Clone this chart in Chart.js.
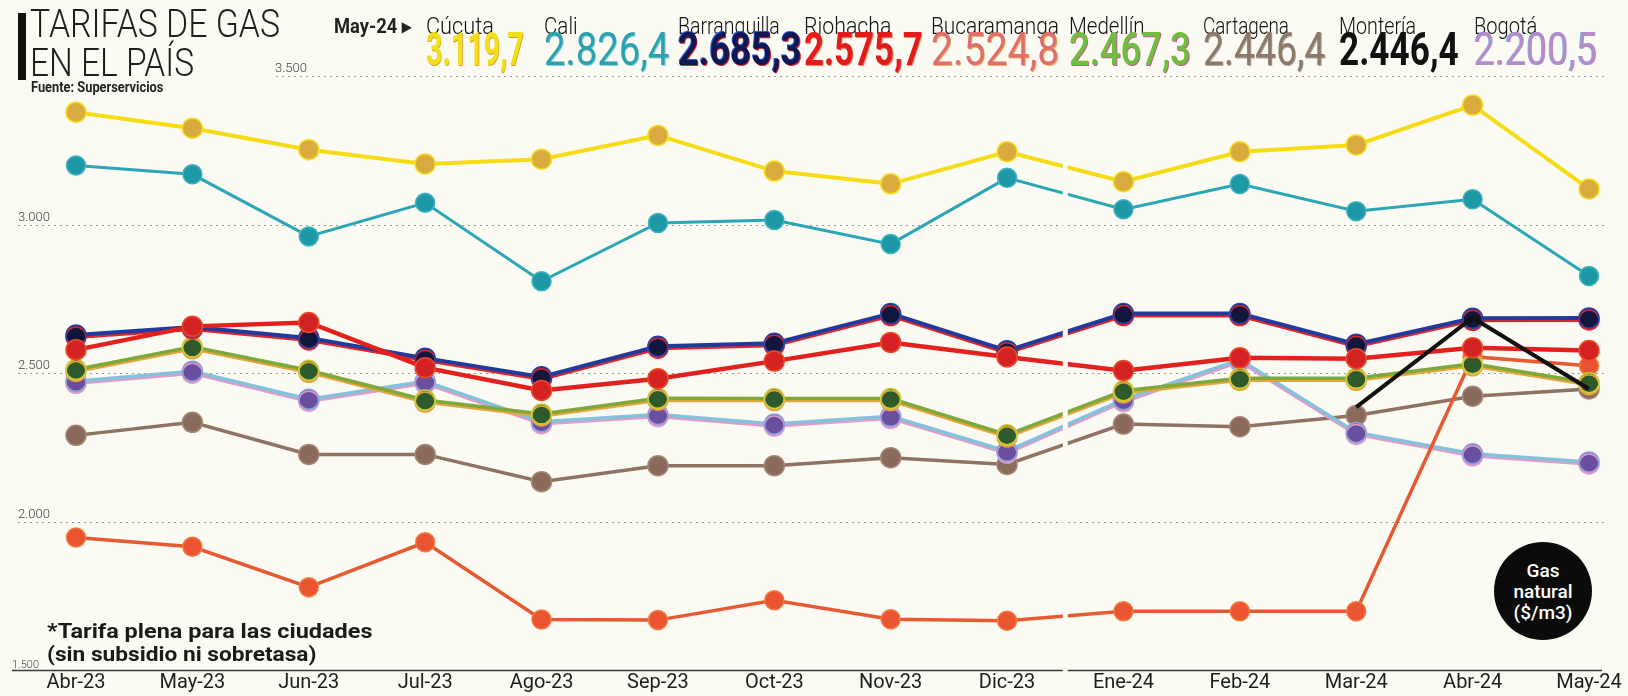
<!DOCTYPE html>
<html lang="es">
<head>
<meta charset="utf-8">
<title>Tarifas de gas en el país</title>
<script src="https://cdn.jsdelivr.net/npm/chart.js@4.4.1/dist/chart.umd.min.js"></script>
<style>
  body { margin: 0; background: #fbfaf3; }
  #wrap { position: relative; width: 1628px; height: 696px; background: #fbfaf3; overflow: hidden; font-family: Roboto, "Open Sans", sans-serif; }
  #chart { position: absolute; left: 0; top: 0; }
  .fit { position: absolute; white-space: nowrap; transform-origin: left top; }
  .bar { position: absolute; left: 18px; top: 13px; width: 8px; height: 67px; background: #111; }
  .title { font-size: 38px; font-weight: 300; line-height: 38px; color: #1e1e1e; }
  .src { font-size: 14px; font-weight: 700; color: #222; }
  .may { font-size: 20px; font-weight: 700; color: #222; }
  .city { top: 13px; font-size: 23px; font-weight: 300; color: #111; }
  .val { top: 25px; font-size: 46px; line-height: 48px; }
  .note { font-size: 20px; font-weight: 700; line-height: 23px; color: #1a1a1a; }
  .badge { position: absolute; left: 1494px; top: 542px; width: 98px; height: 98px; border-radius: 50%; background: #0b0b0b; color: #fff; display: flex; align-items: center; justify-content: center; text-align: center; font-size: 19px; font-weight: 500; line-height: 21px; }
</style>
</head>
<body>
<div id="wrap">
  <canvas id="chart" width="1628" height="696"></canvas>
  <div class="bar"></div>
  <div class="fit title" style="left:30px;top:5px" data-w="250">TARIFAS DE GAS</div>
  <div class="fit title" style="left:30px;top:44px" data-w="164">EN EL PAÍS</div>
  <div class="fit src" style="left:31px;top:79px" data-w="132">Fuente: Superservicios</div>
  <div class="fit may" style="left:334px;top:14px" data-w="77">May-24 &#9656;</div>
  <div id="head"></div>
  <div class="fit note" style="left:47px;top:620px" data-w="325">*Tarifa plena para las ciudades</div>
  <div class="fit note" style="left:47px;top:643px" data-w="270">(sin subsidio ni sobretasa)</div>
  <div class="badge">Gas<br>natural<br>($/m3)</div>
</div>
<script>
// meses del eje x
const months = ['Abr-23', 'May-23', 'Jun-23', 'Jul-23', 'Ago-23', 'Sep-23', 'Oct-23', 'Nov-23', 'Dic-23', 'Ene-24', 'Feb-24', 'Mar-24', 'Abr-24', 'May-24'];

// tarifas por ciudad ($/m3)
const cucuta       = [3378, 3324, 3252, 3204, 3220, 3300, 3180, 3137, 3245, 3144, 3245, 3268, 3402, 3119.7];
const cali         = [3199, 3169, 2960, 3073, 2809, 3005, 3015, 2934, 3157, 3051, 3136, 3045, 3085, 2826.4];
const barranquilla = [2628, 2655, 2618, 2550, 2487, 2590, 2600, 2700, 2575, 2700, 2700, 2597, 2684, 2685.3];
const riohacha     = [2578, 2657, 2670, 2518, 2441, 2481, 2540, 2603, 2554, 2508, 2551, 2548, 2585, 2575.7];
const bucaramanga  = [1946, 1915, 1779, 1930, 1670, 1668, 1735, 1671, 1666, 1698, 1698, 1698, 2555, 2524.8];
const medellin     = [2512, 2588, 2509, 2409, 2362, 2415, 2414, 2414, 2292, 2440, 2482, 2482, 2531, 2467.3];
const cartagena    = [2290, 2334, 2226, 2226, 2134, 2188, 2188, 2215, 2192, 2328, 2319, 2357, 2422, 2446.4];
const monteria     = [null, null, null, null, null, null, null, null, null, null, null, 2385, 2686, 2446.4];
const bogota       = [2472, 2506, 2412, 2472, 2336, 2360, 2328, 2354, 2237, 2410, 2545, 2300, 2228, 2200.5];

const yTicks = [1500, 2000, 2500, 3000, 3500];

// series: nombre, datos, estilo
const series = [
  { name: 'Montería',     data: monteria,     line: '#111111', width: 4,   point: '#111111', ring: '#111111', radius: 0 },
  { name: 'Riohacha',     data: riohacha,     line: '#e2211f', width: 4.5, point: '#d42222', ring: '#ee4a2a', radius: 10 },
  { name: 'Barranquilla', data: barranquilla, line: '#223a9c', width: 4,   point: '#10163c', ring: '#2443aa', radius: 10, shadow: '#e0262b' },
  { name: 'Cúcuta',       data: cucuta,       line: '#f5dc15', width: 4,   point: '#d9ab3e', ring: '#f6dc1c', radius: 10 },
  { name: 'Cali',         data: cali,         line: '#2aa6b4', width: 3,   point: '#1e98a6', ring: '#3cb4c0', radius: 9.5 },
  { name: 'Medellín',     data: medellin,     line: '#7fa83a', width: 3.5, point: '#2e5a2c', ring: '#c9cf3e', radius: 10, shadow: '#e8a53c' },
  { name: 'Bucaramanga',  data: bucaramanga,  line: '#e75a31', width: 3.5, point: '#ea5430', ring: '#f27a42', radius: 9.5 },
  { name: 'Bogotá',       data: bogota,       line: '#84c2dc', width: 3.5, point: '#6a4f9e', ring: '#8d9fdf', radius: 10, shadow: '#e39bc8' },
  { name: 'Cartagena',    data: cartagena,    line: '#8e7363', width: 3.5, point: '#8a6a5a', ring: '#a58676', radius: 10 }
];

// encabezado: orden, posicion y colores de las cifras de mayo
const headOrder = ['Cúcuta', 'Cali', 'Barranquilla', 'Riohacha', 'Bucaramanga', 'Medellín', 'Cartagena', 'Montería', 'Bogotá'];
const headX     = [426, 544, 678, 804, 931, 1069, 1203, 1339, 1474];
const nameW     = [68, 34, 102, 87, 128, 76, 86, 77, 63];
const valW      = [98, 125, 124, 119, 128, 122, 122, 120, 123];
const headStyle = {
  'Cúcuta':       { color: '#f2df1b', weight: 700, shadow: '1px 1px 0 #e39a2c' },
  'Cali':         { color: '#2aa2b0', weight: 400, shadow: '1px 1px 0 #8fd0d8' },
  'Barranquilla': { color: '#0f1850', weight: 700, shadow: '-1px -1px 0 #2a55d6, 1px 1px 0 #e2242a' },
  'Riohacha':     { color: '#e21b1b', weight: 700, shadow: '1px 1px 0 #f08a6a' },
  'Bucaramanga':  { color: '#e06f6b', weight: 400, shadow: '1px 1px 0 #f0b060' },
  'Medellín':     { color: '#6fbe3f', weight: 500, shadow: '1px 1px 0 #c45a94' },
  'Cartagena':    { color: '#8b7a6c', weight: 400, shadow: '1px 1px 0 #b8a89a' },
  'Montería':     { color: '#111111', weight: 700, shadow: 'none' },
  'Bogotá':       { color: '#b98ac9', weight: 400, shadow: '-1px 0 0 #78b8e0' }
};

function fmt(v) {
  const [ent, dec] = v.toFixed(1).split('.');
  return ent.replace(/\B(?=(\d{3})+(?!\d))/g, '.') + ',' + dec;
}

const head = document.getElementById('head');
headOrder.forEach((name, i) => {
  const s = series.find(d => d.name === name);
  const st = headStyle[name];
  const last = s.data[s.data.length - 1];
  const c = document.createElement('div');
  c.className = 'fit city';
  c.style.left = headX[i] + 'px';
  c.dataset.w = nameW[i];
  c.textContent = name;
  head.appendChild(c);
  const v = document.createElement('div');
  v.className = 'fit val';
  v.style.left = headX[i] + 'px';
  v.style.color = st.color;
  v.style.fontWeight = st.weight;
  v.style.textShadow = st.shadow;
  v.dataset.w = valW[i];
  v.textContent = fmt(last);
  head.appendChild(v);
});

// ajusta cada texto a su ancho en el original
function fitAll() {
  document.querySelectorAll('.fit').forEach(el => {
    el.style.transform = 'scaleX(' + (el.dataset.w / el.offsetWidth) + ')';
  });
}
fitAll();
document.fonts.ready.then(fitAll);

const paper = '#fbfaf3';

// fondo, lineas punteadas y linea base
const gridPlugin = {
  id: 'grid',
  beforeDraw(chart) {
    const ctx = chart.ctx;
    ctx.save();
    ctx.fillStyle = paper;
    ctx.fillRect(0, 0, chart.width, chart.height);
    ctx.restore();
  },
  beforeDatasetsDraw(chart) {
    const ctx = chart.ctx;
    const y = chart.scales.y;
    ctx.save();
    yTicks.forEach(t => {
      const py = Math.round(y.getPixelForValue(t)) + 0.5;
      if (t === 1500) {
        ctx.setLineDash([]);
        ctx.strokeStyle = '#3a3a3a';
        ctx.lineWidth = 1.5;
        ctx.beginPath();
        ctx.moveTo(12, py);
        ctx.lineTo(1602, py);
        ctx.stroke();
      } else {
        ctx.setLineDash([2, 4]);
        ctx.strokeStyle = '#9c9890';
        ctx.lineWidth = 1;
        ctx.beginPath();
        ctx.moveTo(t === 3500 ? 276 : 18, py);
        ctx.lineTo(1604, py);
        ctx.stroke();
      }
      ctx.setLineDash([]);
      ctx.fillStyle = '#444';
      ctx.textBaseline = 'alphabetic';
      ctx.font = (t === 1500 ? '300 11px ' : '300 13px ') + 'Roboto';
      const lbl = String(t).replace(/\B(?=(\d{3})+(?!\d))/g, '.');
      ctx.fillText(lbl, t === 3500 ? 275 : (t === 1500 ? 12 : 18), py - (t === 1500 ? 3 : 5));
    });
    ctx.restore();
  },
  afterDatasetsDraw(chart) {
    // corte blanco entre dic-23 y ene-24
    const ctx = chart.ctx;
    const x = chart.scales.x;
    const mid = (x.getPixelForValue(8) + x.getPixelForValue(9)) / 2;
    ctx.save();
    ctx.fillStyle = paper;
    ctx.fillRect(mid - 2.5, chart.chartArea.top + 20, 5, chart.chartArea.bottom - chart.chartArea.top - 18);
    ctx.restore();
  }
};

// sombra de color que imita el registro de impresion
const shadowPlugin = {
  id: 'misreg',
  beforeDatasetDraw(chart, args) {
    const s = series[args.index];
    if (!s.shadow) return;
    const ctx = chart.ctx;
    ctx.save();
    ctx.shadowColor = s.shadow;
    ctx.shadowOffsetX = 0;
    ctx.shadowOffsetY = 2;
    ctx.shadowBlur = 0;
  },
  afterDatasetDraw(chart, args) {
    if (series[args.index].shadow) chart.ctx.restore();
  }
};

new Chart(document.getElementById('chart'), {
  type: 'line',
  data: {
    labels: months,
    datasets: series.map(s => ({
      label: s.name,
      data: s.data,
      borderColor: s.line,
      borderWidth: s.width,
      backgroundColor: s.point,
      pointBackgroundColor: s.point,
      pointBorderColor: s.ring,
      pointBorderWidth: 1.5,
      pointRadius: s.radius,
      tension: 0,
      fill: false,
      spanGaps: false
    }))
  },
  options: {
    responsive: false,
    animation: false,
    layout: { padding: { left: 76, right: 39, top: 76, bottom: 0 } },
    plugins: { legend: { display: false }, tooltip: { enabled: false } },
    scales: {
      x: {
        grid: { display: false, drawTicks: false },
        border: { display: false },
        ticks: {
          autoSkip: false,
          maxRotation: 0,
          padding: 3,
          color: '#1e1e1e',
          font: { family: "'Liberation Sans Narrow', Roboto", size: 20, lineHeight: 1 }
        }
      },
      y: {
        display: false,
        min: 1500,
        max: 3500,
        ticks: { stepSize: 500 }
      }
    }
  },
  plugins: [gridPlugin, shadowPlugin]
});
</script>
</body>
</html>
